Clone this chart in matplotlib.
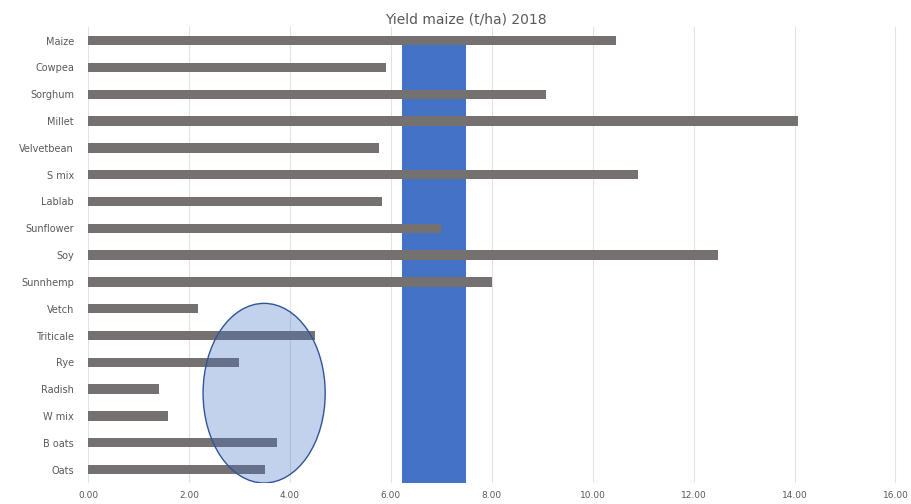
import matplotlib.pyplot as plt
from matplotlib.patches import Ellipse, Rectangle

crops = ['Maize', 'Cowpea', 'Sorghum', 'Millet', 'Velvetbean', 'S mix', 'Lablab',
         'Sunflower', 'Soy', 'Sunnhemp', 'Vetch', 'Triticale', 'Rye', 'Radish',
         'W mix', 'B oats', 'Oats']
yield_maize = [10.47, 5.90, 9.07, 14.07, 5.77, 10.89, 5.83,
               6.99, 12.49, 8.00, 2.18, 4.50, 3.00, 1.41,
               1.58, 3.74, 3.50]
x_ticks = [0, 2, 4, 6, 8, 10, 12, 14, 16]

# highlighted yield range and the winter cover crop group
band_lo, band_hi = 6.23, 7.49
group_center, group_width = 3.49, 2.42


def main():
    fig = plt.figure(figsize=(9.11, 5.04), dpi=100)
    ax = fig.add_axes([0.0966, 0.0417, 0.8891, 0.9043])

    pos = list(range(len(crops)))
    ax.add_patch(Rectangle((band_lo, 0.17), band_hi - band_lo, 16.5 - 0.17,
                           facecolor='#4472C4', edgecolor='none', zorder=1))
    ax.barh(pos, yield_maize, height=0.35, color='#767171', zorder=2)
    ax.add_patch(Ellipse((group_center, 13.15), group_width, 6.7,
                         facecolor='#4472C4', alpha=0.32, edgecolor='none', zorder=3))
    ax.add_patch(Ellipse((group_center, 13.15), group_width, 6.7,
                         facecolor='none', edgecolor='#2F5597', linewidth=1.0, zorder=3))

    ax.set_xlim(0, 16.05)
    ax.set_ylim(16.5, -0.5)
    ax.set_xticks(x_ticks)
    ax.set_xticklabels([f'{t:.2f}' for t in x_ticks], fontsize=6.5, color='#595959')
    ax.set_yticks(pos)
    ax.set_yticklabels(crops, fontsize=7, color='#595959')
    ax.tick_params(length=0, pad=10)
    ax.tick_params(axis='x', pad=6)
    ax.grid(axis='x', color='#E2E2E2', linewidth=0.8, zorder=0)
    ax.set_axisbelow(True)
    for s in ax.spines.values():
        s.set_visible(False)

    fig.text(0.511, 0.962, 'Yield maize (t/ha) 2018', ha='center', va='center',
             fontsize=10, color='#595959')
    fig.savefig('out.png', dpi=100)


if __name__ == "__main__":
    main()
